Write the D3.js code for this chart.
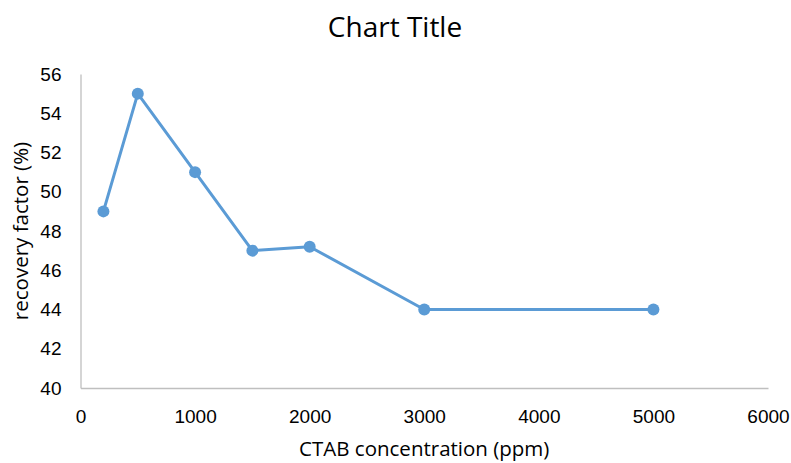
<!DOCTYPE html>
<html>
<head>
<meta charset="utf-8">
<script src="https://cdn.jsdelivr.net/npm/d3@7"></script>
<style>
  body { margin: 0; background: #fff; }
  svg { display: block; font-family: "Open Sans", "Noto Sans", sans-serif; }
</style>
</head>
<body>
<svg id="chart" width="791" height="463"></svg>
<script>
// data
const concentration = [200, 500, 1000, 1500, 2000, 3000, 5000];
const recovery = [49, 55, 51, 47, 47.2, 44, 44];
const xTicks = [0, 1000, 2000, 3000, 4000, 5000, 6000];
const yTicks = [40, 42, 44, 46, 48, 50, 52, 54, 56];

const W = 791, H = 463;
const margin = { left: 80.5, right: 23, top: 74, bottom: 75 };

const svg = d3.select("#chart");

const x = d3.scaleLinear().domain([0, 6000]).range([margin.left, W - margin.right]);
const y = d3.scaleLinear().domain([40, 56]).range([H - margin.bottom, margin.top]);

const lineColor = "#5b9bd5";
const axisColor = "#bfbfbf";
const textColor = "#000";

// x axis
const gx = svg.append("g")
  .attr("transform", `translate(0,${y(40)})`)
  .call(d3.axisBottom(x).tickValues(xTicks).tickSize(0).tickPadding(22).tickFormat(d3.format("d")));
gx.select(".domain").attr("stroke", axisColor).attr("stroke-width", 1.3);
gx.selectAll("text").attr("font-size", 19).attr("fill", textColor).attr("font-family", null);

// y axis
const gy = svg.append("g")
  .attr("transform", `translate(${x(0)},0)`)
  .call(d3.axisLeft(y).tickValues(yTicks).tickSize(0).tickPadding(19).tickFormat(d3.format("d")));
gy.select(".domain").attr("stroke", axisColor).attr("stroke-width", 1.3);
gy.selectAll("text").attr("font-size", 19).attr("fill", textColor).attr("font-family", null);

// series
const line = d3.line()
  .x((d, i) => x(concentration[i]))
  .y(d => y(d));

svg.append("path")
  .datum(recovery)
  .attr("fill", "none")
  .attr("stroke", lineColor)
  .attr("stroke-width", 3)
  .attr("stroke-linejoin", "round")
  .attr("d", line);

svg.append("g")
  .selectAll("circle")
  .data(recovery)
  .join("circle")
  .attr("cx", (d, i) => x(concentration[i]))
  .attr("cy", d => y(d))
  .attr("r", 6)
  .attr("fill", lineColor);

// titles
svg.append("text")
  .attr("x", 395)
  .attr("y", 37)
  .attr("text-anchor", "middle")
  .attr("font-size", 28)
  .attr("fill", textColor)
  .text("Chart Title");

svg.append("text")
  .attr("x", (x(0) + x(6000)) / 2)
  .attr("y", 456)
  .attr("text-anchor", "middle")
  .attr("font-size", 20.5)
  .attr("fill", textColor)
  .text("CTAB concentration (ppm)");

svg.append("text")
  .attr("transform", `translate(28,${(y(40) + y(56)) / 2}) rotate(-90)`)
  .attr("text-anchor", "middle")
  .attr("font-size", 20.5)
  .attr("fill", textColor)
  .text("recovery factor (%)");
</script>
</body>
</html>
